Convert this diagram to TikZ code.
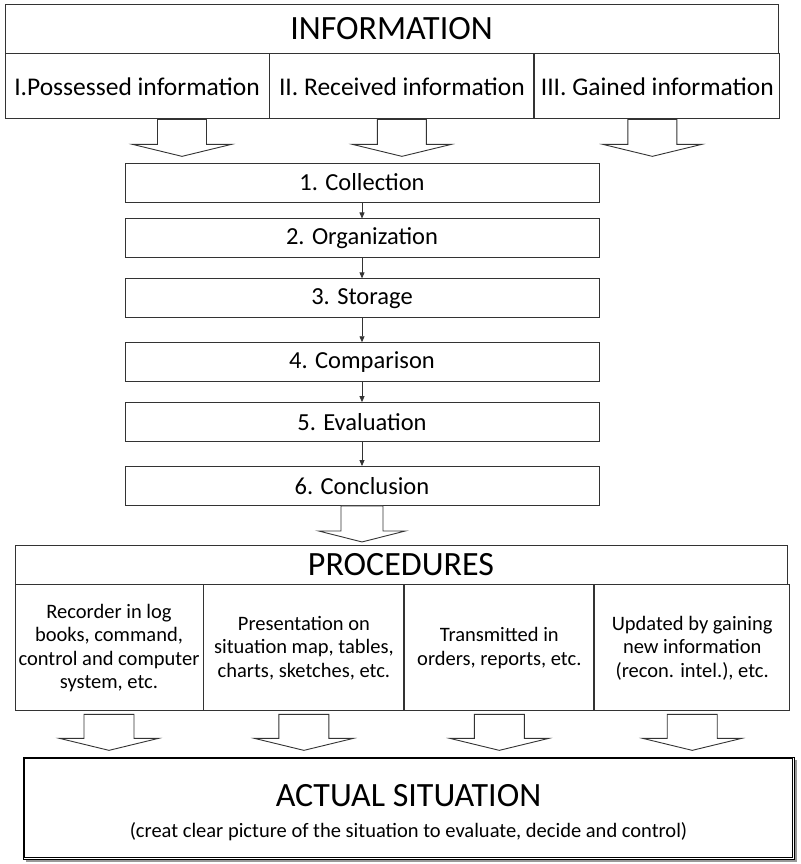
\documentclass[tikz,border=0pt]{standalone}
\usepackage{fontspec}
\setmainfont{Carlito}
\usetikzlibrary{positioning,arrows.meta}
\tikzset{
  >={Triangle[length=6pt,width=5pt]},
  box/.style={draw=black!80, line width=0.9pt, fill=white, inner sep=0pt, align=center},
  bigtext/.style={font=\fontsize{34}{40}\selectfont},
  midtext/.style={font=\fontsize{25.5}{30}\selectfont},
  steptext/.style={font=\fontsize{24.5}{29}\selectfont},
  smalltext/.style={font=\fontsize{20.5}{23.5}\selectfont},
  stepbox/.style={box, steptext, minimum width=474pt, minimum height=39pt},
  blockarrow/.style={draw=black!80, line width=0.9pt, fill=white, line join=miter},
  pics/fatarrow/.style n args={4}{code={
    \draw[blockarrow] ({-#1/2},0) -- ({-#1/2},{-#3}) -- ({-#2/2},{-#3}) -- (0,{-#3-#4})
      -- ({#2/2},{-#3}) -- ({#1/2},{-#3}) -- ({#1/2},0) -- cycle;
  }}
}
\begin{document}
\begin{tikzpicture}[x=1pt,y=1pt]
\useasboundingbox (0,0) rectangle (800,-864);

% information
\node[box, bigtext, minimum width=773pt, minimum height=49pt] (info) at (391.5,-28.5) {INFORMATION};
\node[box, midtext, minimum width=264pt, minimum height=65pt, anchor=north west] (pos) at (info.south west) {I.Possessed information};
\node[box, midtext, minimum width=264pt, minimum height=65pt, right=0pt of pos] (rec) {II. Received information};
\node[box, midtext, minimum width=245pt, minimum height=65pt, right=0pt of rec] (gain) {III. Gained information};

\pic at ([xshift=45pt]pos.south) {fatarrow={49}{99}{25}{12}};
\pic at (rec.south) {fatarrow={49}{99}{25}{12}};
\pic at ([xshift=-5pt]gain.south) {fatarrow={49}{99}{25}{12}};

% steps
\node[stepbox] (c1) at (362,-182.5) {1. Collection};
\node[stepbox, below=16pt of c1] (c2) {2. Organization};
\node[stepbox, below=20pt of c2] (c3) {3. Storage};
\node[stepbox, below=24pt of c3] (c4) {4. Comparison};
\node[stepbox, below=20pt of c4] (c5) {5. Evaluation};
\node[stepbox, below=24pt of c5] (c6) {6. Conclusion};

\foreach \a/\b in {c1/c2,c2/c3,c3/c4,c4/c5,c5/c6}
  \draw[->, black!80, line width=0.8pt] (\a) -- (\b);

\pic at (c6.south) {fatarrow={42}{87}{25}{11}};

% procedures
\node[box, bigtext, minimum width=772pt, minimum height=39pt] (proc) at (401,-564.5) {PROCEDURES};
\node[box, smalltext, minimum width=188pt, minimum height=126pt, anchor=north west] (p1) at (proc.south west)
  {Recorder in log\\books, command,\\control and computer\\system, etc.};
\node[box, smalltext, minimum width=200pt, minimum height=126pt, right=0pt of p1] (p2)
  {Presentation on\\situation map, tables,\\charts, sketches, etc.};
\node[box, smalltext, minimum width=189pt, minimum height=126pt, right=0pt of p2] (p3)
  {Transmitted in\\orders, reports, etc.};
\node[box, smalltext, minimum width=195pt, minimum height=126pt, right=0pt of p3] (p4)
  {Updated by gaining\\new information\\(recon. intel.), etc.};

\foreach \p in {p1,p2,p3,p4}
  \pic at ([yshift=-3pt]\p.south) {fatarrow={50}{99}{24}{12}};

% actual situation
\fill[black!40] (25.5,-759.5) rectangle (796.5,-861.5);
\node[box, minimum width=771pt, minimum height=102pt, line width=0.8pt, draw=black] (actual) at (408.5,-808) {};
\draw[black, line width=0.8pt] ([shift={(2.2,-2.2)}]actual.north west) rectangle ([shift={(-2.2,2.2)}]actual.south east);
\node[bigtext] (acttitle) at ([yshift=12pt]actual.center) {ACTUAL SITUATION};
\node[smalltext] (actsub) at ([yshift=-24pt]actual.center) {(creat clear picture of the situation to evaluate, decide and control)};
\end{tikzpicture}
\end{document}
